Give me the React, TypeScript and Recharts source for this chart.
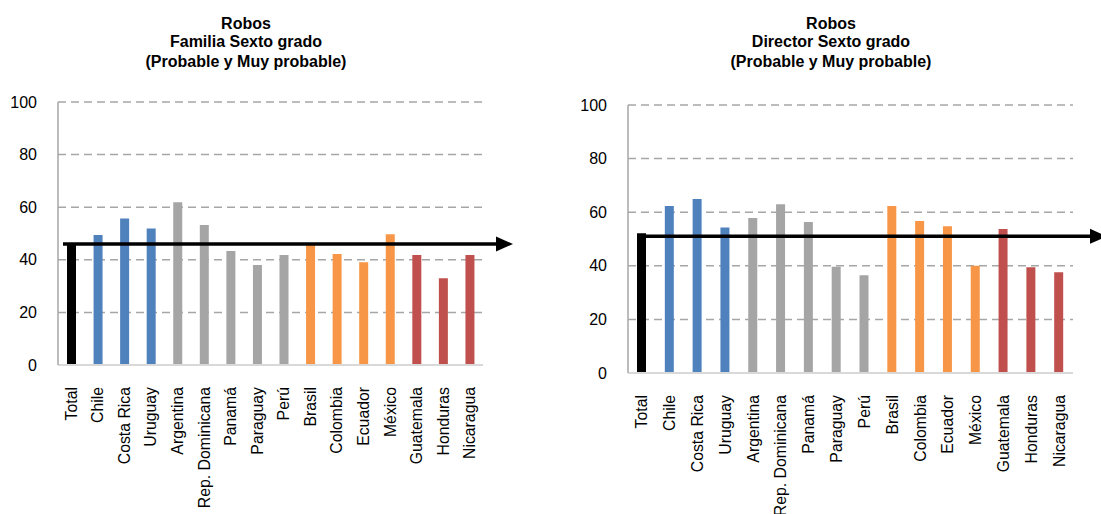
import React from 'react';
import { BarChart, Bar, XAxis, YAxis, CartesianGrid, Cell, ReferenceLine } from 'recharts';

const categories = [
  'Total', 'Chile', 'Costa Rica', 'Uruguay', 'Argentina', 'Rep. Dominicana', 'Panamá', 'Paraguay',
  'Perú', 'Brasil', 'Colombia', 'Ecuador', 'México', 'Guatemala', 'Honduras', 'Nicaragua',
];
const familiaValues = [46, 49.4, 55.7, 51.9, 61.9, 53.2, 43.3, 38, 41.8, 45.8, 42.2, 39.1, 49.7, 41.8, 33, 41.8];
const directorValues = [52.1, 62.3, 64.9, 54.3, 57.8, 63, 56.3, 39.6, 36.5, 62.3, 56.7, 54.8, 40, 53.7, 39.5, 37.6];
const barColors = [
  '#000000', '#4F81BD', '#4F81BD', '#4F81BD', '#A5A5A5', '#A5A5A5', '#A5A5A5', '#A5A5A5',
  '#A5A5A5', '#F79646', '#F79646', '#F79646', '#F79646', '#C0504D', '#C0504D', '#C0504D',
];
const yTicks = [0, 20, 40, 60, 80, 100];
const familiaTitle = ['Robos', 'Familia Sexto grado', '(Probable y Muy probable)'];
const directorTitle = ['Robos', 'Director Sexto grado', '(Probable y Muy probable)'];
const familiaArrow = 46;
const directorArrow = 51;

const FONT = '"Liberation Sans", Arial, sans-serif';

const RotatedTick = (props: any) => {
  const { x, y, payload } = props;
  return (
    <text
      x={x}
      y={y}
      transform={`rotate(-90, ${x}, ${y})`}
      textAnchor="end"
      dominantBaseline="central"
      fontFamily={FONT}
      fontSize={15.8}
      fill="#000"
    >
      {payload.value}
    </text>
  );
};

const arrowShape = (startOffset: number, endOffset: number) => (props: any) => {
  const { x1, y1, x2 } = props;
  const sx = x1 + startOffset;
  const tip = x2 + endOffset;
  return (
    <g>
      <line x1={sx} y1={y1} x2={tip - 14} y2={y1} stroke="#000" strokeWidth={3.5} />
      <polygon points={`${tip},${y1} ${tip - 17},${y1 - 7.5} ${tip - 17},${y1 + 7.5}`} fill="#000" />
    </g>
  );
};

interface PanelProps {
  values: number[];
  arrow: number;
  width: number;
  top: number;
  right: number;
  bottom: number;
  arrowStart: number;
  arrowEnd: number;
}

const Panel: React.FC<PanelProps> = ({ values, arrow, width, top, right, bottom, arrowStart, arrowEnd }) => {
  const data = categories.map((name, i) => ({ name, value: values[i] }));
  return (
    <BarChart
      width={width}
      height={514}
      data={data}
      margin={{ top, right, left: 0, bottom: 0 }}
      style={{ overflow: 'visible' }}
    >
      <CartesianGrid vertical={false} stroke="#A6A6A6" strokeWidth={1.5} strokeDasharray="8 5" />
      <XAxis
        dataKey="name"
        interval={0}
        height={bottom}
        tickLine={false}
        tickSize={0}
        tickMargin={22}
        axisLine={{ stroke: '#D9D9D9', strokeWidth: 2 }}
        tick={<RotatedTick />}
      />
      <YAxis
        width={58}
        domain={[0, 100]}
        ticks={yTicks}
        tickLine={false}
        tickSize={0}
        tickMargin={21}
        axisLine={{ stroke: '#A6A6A6', strokeWidth: 1.5 }}
        tick={{ fill: '#000', fontSize: 16, fontFamily: FONT }}
      />
      <Bar dataKey="value" barSize={9} isAnimationActive={false}>
        {data.map((_, i) => (
          <Cell key={i} fill={barColors[i]} />
        ))}
      </Bar>
      <ReferenceLine y={arrow} ifOverflow="visible" shape={arrowShape(arrowStart, arrowEnd)} />
    </BarChart>
  );
};

const Title: React.FC<{ lines: string[]; center: number; tops: number[] }> = ({ lines, center, tops }) => (
  <>
    {lines.map((line, i) => (
      <div
        key={i}
        style={{
          position: 'absolute',
          left: center - 160,
          width: 320,
          top: tops[i],
          textAlign: 'center',
          fontFamily: FONT,
          fontWeight: 'bold',
          fontSize: 16,
          lineHeight: '19px',
          color: '#000',
          whiteSpace: 'nowrap',
        }}
      >
        {line}
      </div>
    ))}
  </>
);

export default function App() {
  return (
    <div style={{ position: 'absolute', left: 0, top: 0, width: 1101, height: 514, background: '#fff', overflow: 'hidden' }}>
      <Title lines={familiaTitle} center={246} tops={[13.5, 32, 51.5]} />
      <Title lines={directorTitle} center={831} tops={[13.5, 32, 52]} />
      <div style={{ position: 'absolute', left: 0, top: 0 }}>
        <Panel values={familiaValues} arrow={familiaArrow} width={520} top={102} right={37} bottom={149} arrowStart={5} arrowEnd={30} />
      </div>
      <div style={{ position: 'absolute', left: 570, top: 0 }}>
        <Panel values={directorValues} arrow={directorArrow} width={531} top={105} right={28} bottom={141} arrowStart={18} arrowEnd={34} />
      </div>
    </div>
  );
}
